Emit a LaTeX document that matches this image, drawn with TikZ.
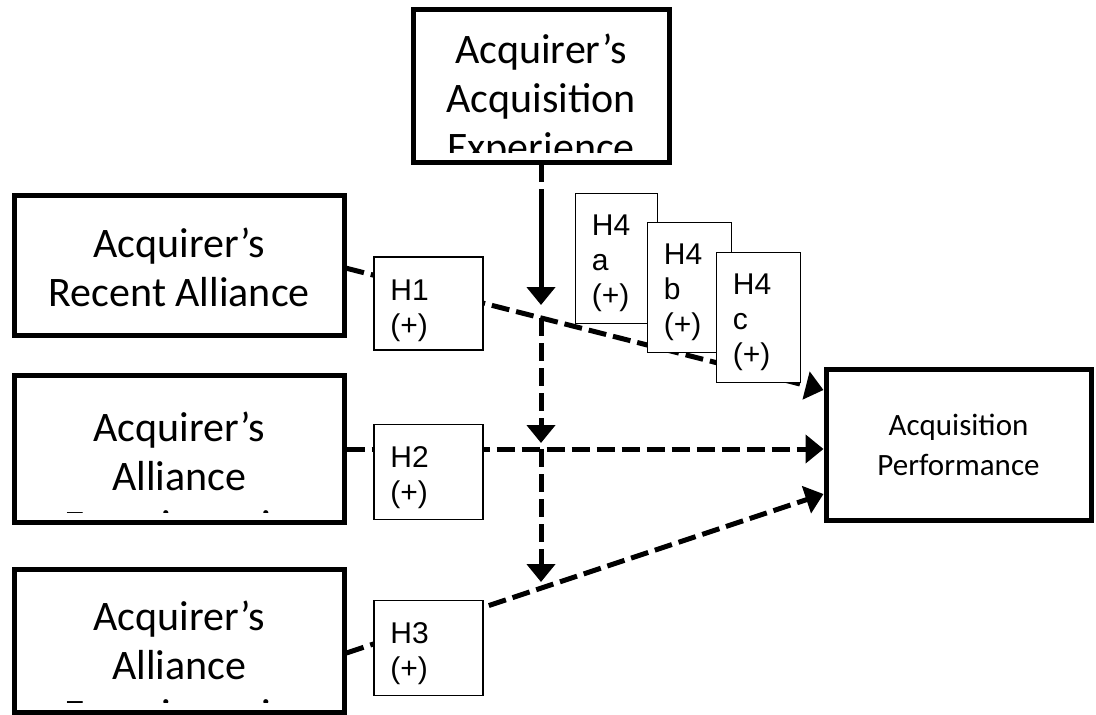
\documentclass[tikz,border=0pt]{standalone}
\usepackage{fontspec}
\setmainfont{Carlito}[Extension=.ttf, UprightFont=*-Regular, BoldFont=*-Bold,
  ItalicFont=*-Italic, BoldItalicFont=*-BoldItalic]
\newfontfamily\hfont{Liberation Sans}
\usetikzlibrary{arrows.meta,positioning}
\tikzstyle{var} = [draw, fill=white, line width=5pt]
\tikzstyle{hyp} = [draw, fill=white, line width=1.5pt]
\tikzstyle{hlab} = [inner sep=0pt, align=left, font=\hfont\fontsize{30}{35}\selectfont]
\tikzstyle{link} = [->, line width=5pt, dash pattern=on 18pt off 7pt]

% text of a variable box, cut off at the lower edge of the box
\newcommand{\boxtext}[3]{%
  \begin{scope}
    \clip ([shift={(5pt,13pt)}]#1.south west) rectangle ([shift={(-5pt,-5pt)}]#1.north east);
    \node[anchor=north, inner sep=0pt, align=center, font=\fontsize{42}{49}\selectfont] at ([yshift=-#2pt]#1.north) {#3};
  \end{scope}}

\begin{document}
\begin{tikzpicture}[x=1pt,y=-1pt,>={Triangle[length=18pt,width=28pt]}]
  \useasboundingbox (0,0) rectangle (1096,715);

  \node[var, minimum width=256pt, minimum height=153pt] (AAE) at (541,86) {};
  \node[var, minimum width=329.5pt, minimum height=139.5pt] (RAE) at (179.25,265.25) {};
  \node[var, minimum width=329.5pt, minimum height=147pt] (AEa) at (179.25,449) {};
  \node[var, minimum width=329.5pt, minimum height=143pt] (AEb) at (179.25,641) {};
  \node[var, minimum width=265pt, minimum height=151pt, align=center,
        font=\fontsize{31}{40}\selectfont] (AP) at (958.5,445) {Acquisition\\Performance};

  \boxtext{AAE}{27}{Acquirer’s\\Acquisition\\Experience}
  \boxtext{RAE}{35}{Acquirer’s\\Recent Alliance\\Experience}
  \boxtext{AEa}{39}{Acquirer’s\\Alliance\\Experience in}
  \boxtext{AEb}{34}{Acquirer’s\\Alliance\\Experience in}

  % moderating path meets the three main effects here
  \coordinate (m1) at (541,318);
  \coordinate (m2) at (541,449);
  \coordinate (m3) at (541,588);

  \draw[link] ([yshift=-3pt]RAE.east) -- ([yshift=55pt]AP.west);
  \draw[link] (AEa.east) -- (AEa.east -| AP.west);
  \draw[link] ([yshift=-12pt]AEb.east) -- ([yshift=-49pt]AP.west);

  \draw[link, dash pattern=on 17pt off 7pt on 200pt, shorten >=13pt] (AAE.south) -- (m1);
  \draw[link, shorten >=6pt] (m1) -- (m2);
  \draw[link, shorten >=6pt] (m2) -- (m3);

  \node[hyp, minimum width=109pt, minimum height=93pt] (H1) at (428.5,303.5) {};
  \node[hlab, below right=23pt and 17pt of H1.north west] (H1t) {H1\\(+)};
  \node[hyp, minimum width=109pt, minimum height=95pt] (H2) at (428.5,472) {};
  \node[hlab, below right=23pt and 17pt of H2.north west] (H2t) {H2\\(+)};
  \node[hyp, minimum width=109pt, minimum height=95pt] (H3) at (428.5,648) {};
  \node[hlab, below right=23pt and 17pt of H3.north west] (H3t) {H3\\(+)};

  \node[hyp, minimum width=82pt, minimum height=130pt] (H4a) at (616.5,258.5) {};
  \node[hlab, below right=22pt and 17pt of H4a.north west] (H4at) {H4\\a\\(+)};
  \node[hyp, minimum width=84pt, minimum height=130pt] (H4b) at (689.5,287.5) {};
  \node[hlab, below right=22pt and 17pt of H4b.north west] (H4bt) {H4\\b\\(+)};
  \node[hyp, minimum width=84pt, minimum height=130pt] (H4c) at (758.5,317.5) {};
  \node[hlab, below right=22pt and 17pt of H4c.north west] (H4ct) {H4\\c\\(+)};

\end{tikzpicture}
\end{document}
